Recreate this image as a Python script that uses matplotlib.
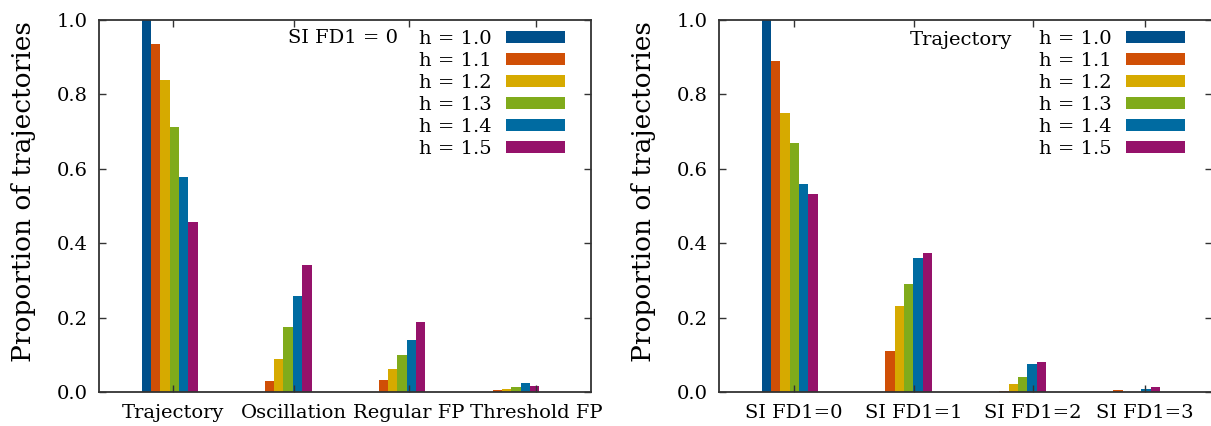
import numpy as np
import matplotlib.pyplot as plt

# data
h_labels = ["h = 1.0", "h = 1.1", "h = 1.2", "h = 1.3", "h = 1.4", "h = 1.5"]
colors = ["#004f8a", "#d04f06", "#d6aa00", "#80ab1b", "#006ba1", "#95126a"]

left_cats = ["Trajectory", "Oscillation", "Regular FP", "Threshold FP"]
left_vals = [
    [1.000, 0.000, 0.000, 0.000],   # h = 1.0
    [0.935, 0.029, 0.032, 0.006],   # h = 1.1
    [0.840, 0.090, 0.062, 0.009],   # h = 1.2
    [0.712, 0.176, 0.100, 0.013],   # h = 1.3
    [0.579, 0.257, 0.139, 0.025],   # h = 1.4
    [0.458, 0.341, 0.187, 0.016],   # h = 1.5
]

right_cats = ["SI FD1=0", "SI FD1=1", "SI FD1=2", "SI FD1=3"]
right_vals = [
    [1.000, 0.000, 0.000, 0.000],
    [0.889, 0.110, 0.003, 0.005],
    [0.750, 0.230, 0.022, 0.001],
    [0.669, 0.291, 0.040, 0.001],
    [0.558, 0.360, 0.075, 0.008],
    [0.532, 0.374, 0.081, 0.013],
]

# gnuplot put the tic labels a little right of the cluster centres
left_tic_shift = [0.03, 0.09, 0.10, 0.22]
right_tic_shift = [0.035, 0.09, 0.13, 0.11]

plt.rcParams['font.family'] = ['DejaVu Serif']

W, H = 1211, 426
fig = plt.figure(figsize=(W / 100, H / 100), dpi=100)

bw = 0.082


def panel(rect, cats, vals, shift, note, note_x, note_y, leg_x):
    ax = fig.add_axes(rect)
    x = np.arange(len(cats))
    n = len(vals)
    for j, v in enumerate(vals):
        ax.bar(x + (j - (n - 1) / 2) * bw, v, width=bw, color=colors[j],
               label=h_labels[j], linewidth=0)
    ax.set_xlim(-0.62, 3.70)
    ax.set_ylim(0, 1.0)
    ax.set_yticks(np.arange(0, 1.01, 0.2))
    ax.set_yticklabels(["%.1f" % t for t in np.arange(0, 1.01, 0.2)])
    ax.set_xticks(x + np.array(shift))
    ax.set_xticklabels(cats)
    ax.tick_params(direction='in', top=True, right=True, length=5,
                   labelsize=14, width=1, color='#333333')
    ax.tick_params(axis='y', pad=8)
    ax.tick_params(axis='x', pad=9)
    for s in ax.spines.values():
        s.set_linewidth(1.3)
        s.set_color('#333333')
    ax.set_ylabel("Proportion of trajectories", fontsize=19)
    ax.yaxis.set_label_coords(-0.128, 0.54)
    ax.text(note_x, note_y, note, transform=ax.transAxes, fontsize=14,
            ha='left', va='center')
    ax.legend(loc='upper right', frameon=False, markerfirst=False,
              fontsize=14, handlelength=3.05, handleheight=0.6,
              labelspacing=0.21, handletextpad=0.7,
              borderaxespad=0.0, bbox_to_anchor=(leg_x, 0.995))
    return ax


bottom = (H - 392) / H
height = 372 / H
panel([99 / W, bottom, 492 / W, height], left_cats, left_vals, left_tic_shift,
      "SI FD1 = 0", (288 - 99) / 492, 0.952, 0.963)
panel([719 / W, bottom, 493 / W, height], right_cats, right_vals,
      right_tic_shift, "Trajectory", (910 - 719) / 493, 0.946, 0.961)

fig.savefig("out.png", dpi=100)
